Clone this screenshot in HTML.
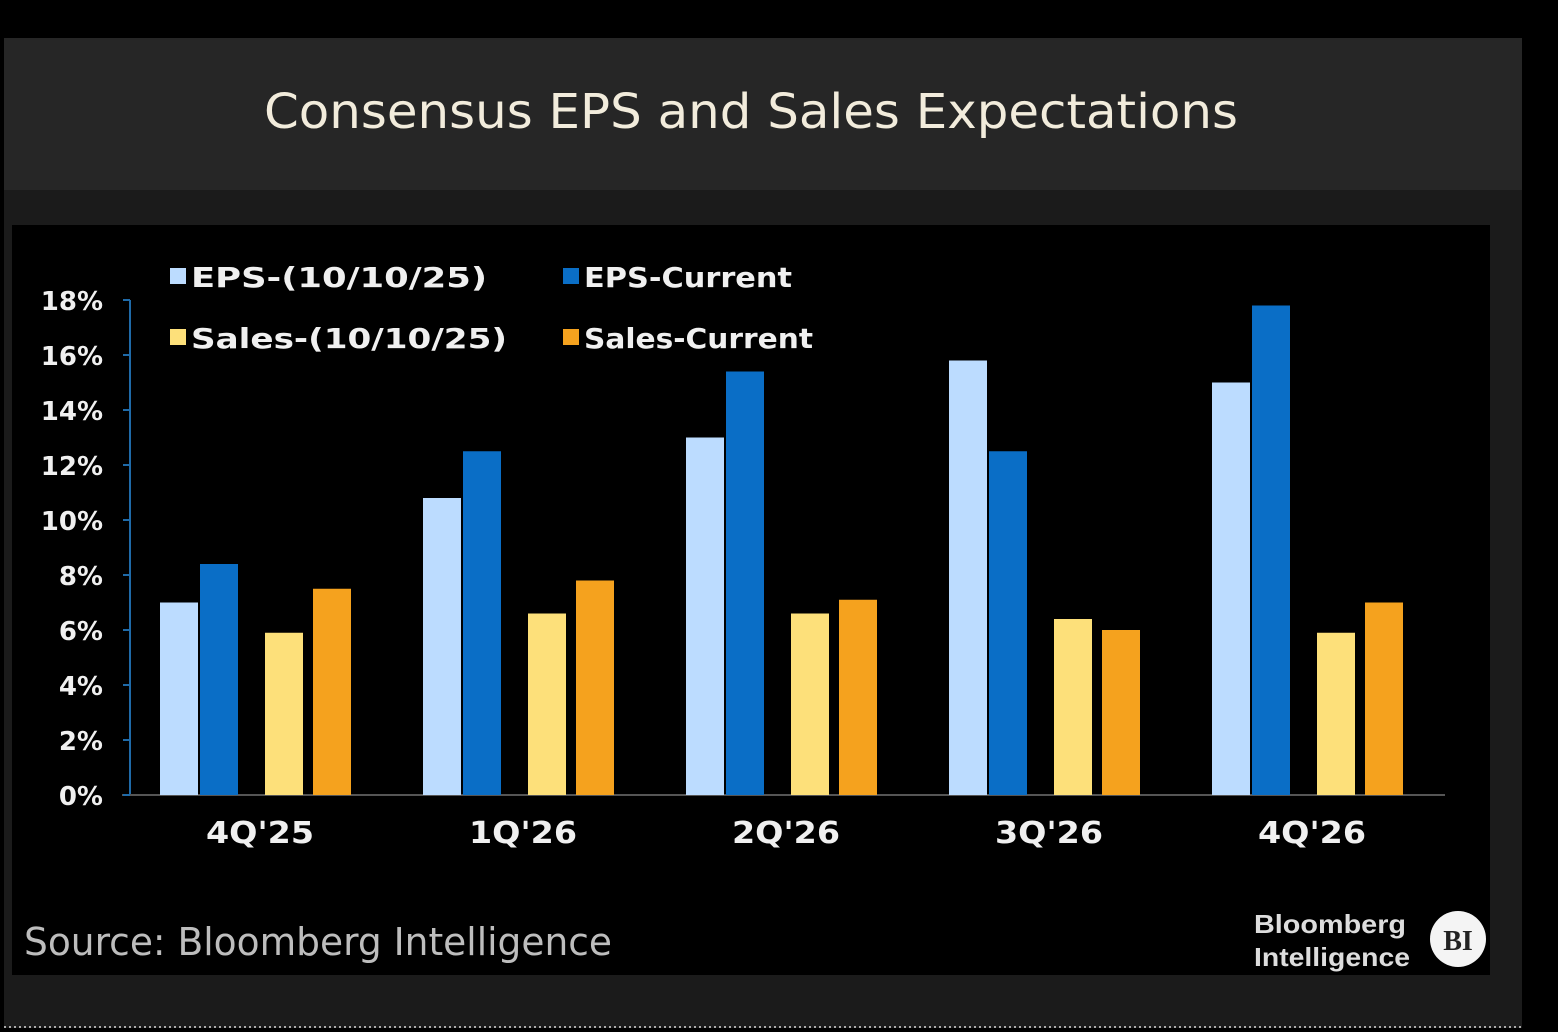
<!DOCTYPE html>
<html><head><meta charset="utf-8"><style>
html,body{margin:0;padding:0;background:#000;width:1558px;height:1032px;overflow:hidden}
svg{display:block}
text{font-family:"DejaVu Sans","Liberation Sans",sans-serif}
</style></head><body>
<svg width="1558" height="1032">
<rect x="0" y="0" width="1558" height="1032" fill="#000"/>
<rect x="4" y="38" width="1518" height="990" fill="#1b1b1b"/>
<rect x="4" y="38" width="1518" height="152" fill="#262626"/>
<text x="264" y="128" font-size="48" fill="#f2ecdc" textLength="974" lengthAdjust="spacingAndGlyphs" style="font-family:'DejaVu Sans',sans-serif">Consensus EPS and Sales Expectations</text>
<rect x="12" y="225" width="1478" height="750" fill="#000"/>
<line x1="4" y1="1027" x2="1522" y2="1027" stroke="#aaa" stroke-width="2" stroke-dasharray="2,3"/>
<g id="axes"></g>
<g id="bars"></g>
<g font-weight="bold" font-size="28" fill="#f0f0f0">
<rect x="170" y="268" width="16" height="16" fill="#bcdcff"/>
<text x="191" y="287" textLength="296" lengthAdjust="spacingAndGlyphs">EPS-(10/10/25)</text>
<rect x="563" y="268" width="16" height="16" fill="#0a6ec6"/>
<text x="584" y="287" textLength="208" lengthAdjust="spacingAndGlyphs">EPS-Current</text>
<rect x="170" y="329" width="16" height="16" fill="#fde07a"/>
<text x="191" y="348" textLength="316" lengthAdjust="spacingAndGlyphs">Sales-(10/10/25)</text>
<rect x="563" y="329" width="16" height="16" fill="#f5a21e"/>
<text x="584" y="348" textLength="229" lengthAdjust="spacingAndGlyphs">Sales-Current</text>
</g>
<text x="24" y="955" font-size="38" fill="#bdbdbd" textLength="588" lengthAdjust="spacingAndGlyphs" style="font-family:'DejaVu Sans',sans-serif">Source: Bloomberg Intelligence</text>
<text x="1254" y="933" font-size="26" fill="#ddd" font-weight="bold" textLength="152" lengthAdjust="spacingAndGlyphs" style="font-family:'Liberation Sans',sans-serif">Bloomberg</text>
<text x="1254" y="966" font-size="26" fill="#ddd" font-weight="bold" textLength="156" lengthAdjust="spacingAndGlyphs" style="font-family:'Liberation Sans',sans-serif">Intelligence</text>
<circle cx="1458" cy="939" r="28" fill="#f4f4f4"/>
<text x="1458" y="950" text-anchor="middle" font-size="28" font-weight="bold" fill="#222" style="font-family:'Liberation Serif',serif">BI</text>
</svg>
<script>
const categories=["4Q'25","1Q'26","2Q'26","3Q'26","4Q'26"];
const epsOld=[7.0,10.8,13.0,15.8,15.0];
const epsCurrent=[8.4,12.5,15.4,12.5,17.8];
const salesOld=[5.9,6.6,6.6,6.4,5.9];
const salesCurrent=[7.5,7.8,7.1,6.0,7.0];
const yTicks=[0,2,4,6,8,10,12,14,16,18];
const NS="http://www.w3.org/2000/svg";
const y0=795,yTop=300,yMax=18;
function y(v){return y0-(v/yMax)*(y0-yTop);}
const groupStart=160,groupStep=263;
function gx(i){return groupStart+i*groupStep;}
const axes=document.getElementById('axes');
function mk(tag,attrs,parent){const e=document.createElementNS(NS,tag);for(const k in attrs)e.setAttribute(k,attrs[k]);parent.appendChild(e);return e;}
const yl=mk('line',{x1:130,y1:y(yMax),x2:130,y2:y0,stroke:'#1f6aa8','stroke-width':2},axes);


const xl=mk('line',{x1:122,y1:y0,x2:1445,y2:y0,stroke:'#555','stroke-width':2},axes);


yTicks.forEach(t=>{
  const tk=mk('line',{x1:123,y1:y(t),x2:130,y2:y(t),stroke:'#1f6aa8','stroke-width':2},axes);
  
  
  const tx=mk('text',{x:103,y:y(t)+10,'text-anchor':'end','font-size':26,'font-weight':'bold',fill:'#f0f0f0'},axes);
  tx.textContent=t+'%';
  
  
});
const bars=document.getElementById('bars');
const series=[[epsOld,'#bcdcff',0,'eps-old'],[epsCurrent,'#0a6ec6',40,'eps-current'],[salesOld,'#fde07a',105,'sales-old'],[salesCurrent,'#f5a21e',153,'sales-current']];
categories.forEach((c,i)=>{
  series.forEach(s=>{
    const v=s[0][i];
    const r=mk('rect',{x:gx(i)+s[2],y:y(v),width:38,height:y0-y(v),fill:s[1]},bars);
    
    
  });
  const t=mk('text',{x:gx(i)+100,y:843,'text-anchor':'middle','font-size':30,'font-weight':'bold',fill:'#f0f0f0',textLength:108,lengthAdjust:'spacingAndGlyphs'},bars);
  t.textContent=c;
  
  
});
</script>
</body></html>
